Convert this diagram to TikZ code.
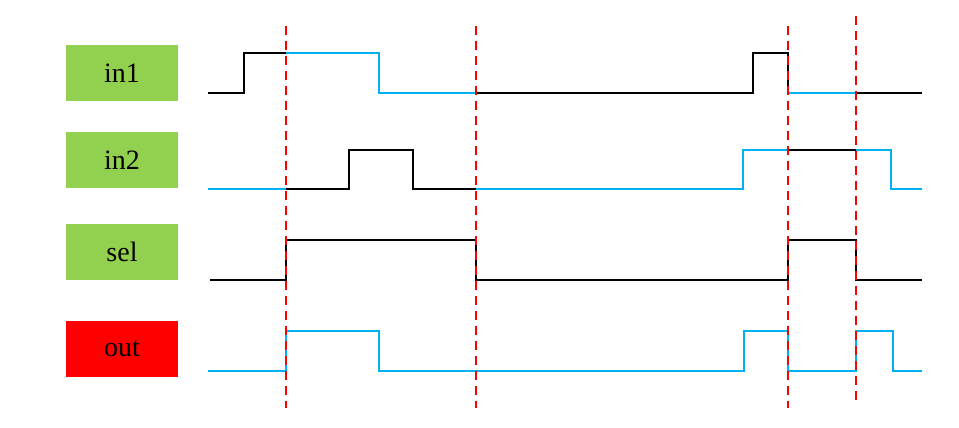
\documentclass[tikz,border=0pt]{standalone}
\usepackage{fontspec}
\setmainfont{Liberation Serif}
\definecolor{lgreen}{HTML}{92D050}
\definecolor{sblue}{HTML}{00B0F0}
\begin{document}
\begin{tikzpicture}[x=1pt,y=-1pt,
  lbl/.style={minimum width=112pt,minimum height=56pt,inner sep=0pt,font=\fontsize{28}{30}\selectfont},
  bl/.style={black,line width=1.5pt},
  bu/.style={sblue,line width=1.5pt},
  mark line/.style={red,dashed,line width=1.3pt,dash pattern=on 9pt off 6pt}]
\useasboundingbox (0,0) rectangle (959,428);
\node[lbl,fill=lgreen] (in1) at (122,73) {in1};
\node[lbl,fill=lgreen] (in2) at (122,160) {in2};
\node[lbl,fill=lgreen] (sel) at (122,252) {sel};
\node[lbl,fill=red] (out) at (122,349) {out};
% in1
\draw[bl] (208,93) -- (244,93) -- (244,53) -- (286,53);
\draw[bu] (286,53) -- (379,53) -- (379,93) -- (476,93);
\draw[bl] (476,93) -- (753,93) -- (753,53) -- (788,53) -- (788,93);
\draw[bu] (788,93) -- (856,93);
\draw[bl] (856,93) -- (922,93);
% in2
\draw[bu] (208,189) -- (286,189);
\draw[bl] (286,189) -- (349,189) -- (349,150) -- (413,150) -- (413,189) -- (476,189);
\draw[bu] (476,189) -- (743,189) -- (743,150) -- (788,150);
\draw[bl] (788,150) -- (856,150);
\draw[bu] (856,150) -- (891,150) -- (891,189) -- (922,189);
% sel
\draw[bl] (210,280) -- (286,280) -- (286,240) -- (476,240) -- (476,280) -- (788,280) -- (788,240) -- (856,240) -- (856,280) -- (922,280);
% out
\draw[bu] (208,371) -- (286,371) -- (286,331) -- (379,331) -- (379,371) -- (744,371) -- (744,331) -- (788,331) -- (788,371) -- (856,371) -- (856,331) -- (893,331) -- (893,371) -- (922,371);
% markers
\draw[mark line] (286,26) -- (286,408);
\draw[mark line] (476,26) -- (476,408);
\draw[mark line] (788,26) -- (788,408);
\draw[mark line] (856,16) -- (856,400);
\end{tikzpicture}
\end{document}
